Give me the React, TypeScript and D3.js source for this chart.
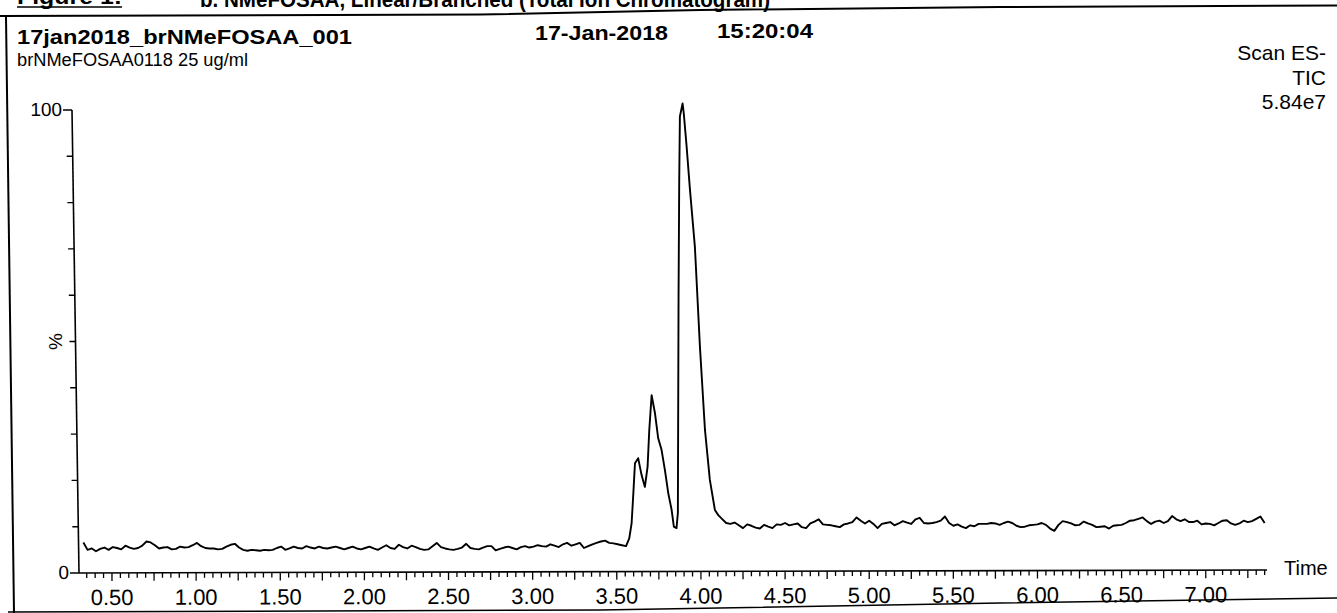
import React from "react";
import * as d3 from "d3";

const W = 1337;
const H = 613;

// axis domains
const timeDomain: [number, number] = [0.304, 7.364];
const percentDomain: [number, number] = [0, 100];

// tick labels
const timeTickLabels = ["0.50", "1.00", "1.50", "2.00", "2.50", "3.00", "3.50", "4.00", "4.50", "5.00", "5.50", "6.00", "6.50", "7.00"];
const percentTickLabels = ["0", "100"];

// header texts
const captionLeft = "Figure 1:";
const captionRight = "b. NMeFOSAA, Linear/Branched (Total Ion Chromatogram)";
const runName = "17jan2018_brNMeFOSAA_001";
const sampleName = "brNMeFOSAA0118 25 ug/ml";
const runDate = "17-Jan-2018";
const runTime = "15:20:04";
const scanInfo = ["Scan ES-", "TIC", "5.84e7"];

// TIC trace: [time (min), relative intensity (%)]
const baselineBefore: [number, number][] = [
  [0.330, 6.6], [0.355, 5.0], [0.380, 5.3], [0.405, 4.7], [0.430, 5.2], [0.455, 5.5], [0.480, 5.0], [0.505, 5.6],
  [0.530, 5.4], [0.555, 5.1], [0.580, 5.9], [0.605, 5.5], [0.630, 5.2], [0.655, 5.4], [0.680, 5.9], [0.705, 6.8],
  [0.730, 6.6], [0.755, 6.0], [0.780, 5.3], [0.805, 5.5], [0.830, 5.6], [0.855, 5.1], [0.880, 5.2], [0.905, 5.7],
  [0.930, 5.5], [0.955, 5.6], [0.980, 6.0], [1.005, 6.5], [1.030, 5.8], [1.055, 5.4], [1.080, 5.3], [1.105, 5.3],
  [1.130, 5.1], [1.155, 5.2], [1.180, 5.7], [1.205, 6.1], [1.230, 6.3], [1.255, 5.5], [1.280, 5.0], [1.305, 4.8],
  [1.330, 5.0], [1.355, 4.9], [1.380, 4.8], [1.405, 5.0], [1.430, 4.9], [1.455, 5.0], [1.480, 5.4], [1.505, 5.7],
  [1.530, 5.0], [1.555, 5.3], [1.580, 5.7], [1.605, 5.4], [1.630, 5.3], [1.655, 5.8], [1.680, 5.5], [1.705, 5.3],
  [1.730, 5.7], [1.755, 5.4], [1.780, 5.3], [1.805, 5.5], [1.830, 5.7], [1.855, 5.4], [1.880, 5.1], [1.905, 5.4],
  [1.930, 5.7], [1.955, 5.3], [1.980, 5.1], [2.005, 5.4], [2.030, 5.7], [2.055, 5.3], [2.080, 5.0], [2.105, 5.5],
  [2.130, 6.0], [2.155, 5.4], [2.180, 5.2], [2.205, 6.1], [2.230, 5.6], [2.255, 5.3], [2.280, 5.9], [2.305, 5.6],
  [2.330, 5.2], [2.355, 5.0], [2.380, 5.1], [2.405, 5.8], [2.430, 6.5], [2.455, 5.6], [2.480, 5.3], [2.505, 5.1],
  [2.530, 5.0], [2.555, 5.2], [2.580, 5.5], [2.605, 6.3], [2.630, 5.4], [2.655, 5.2], [2.680, 5.1], [2.705, 5.5],
  [2.730, 5.8], [2.755, 5.8], [2.780, 4.9], [2.805, 5.2], [2.830, 5.5], [2.855, 5.7], [2.880, 5.4], [2.905, 5.1],
  [2.930, 5.6], [2.955, 5.8], [2.980, 5.5], [3.005, 5.7], [3.030, 6.0], [3.055, 5.8], [3.080, 5.7], [3.105, 6.2],
  [3.130, 5.9], [3.155, 5.6], [3.180, 6.2], [3.205, 6.5], [3.230, 5.9], [3.255, 6.2], [3.280, 6.5], [3.305, 5.4],
  [3.330, 5.8], [3.355, 6.2], [3.380, 6.5], [3.405, 6.8], [3.430, 7.0], [3.455, 6.5], [3.480, 6.4], [3.505, 6.2],
  [3.530, 6.0], [3.555, 5.8],
];

const peakRegion: [number, number][] = [
  [3.574, 7.5], [3.588, 10.7], [3.598, 17.0], [3.608, 23.7], [3.627, 24.8], [3.647, 21.2], [3.667, 18.6],
  [3.683, 23.0], [3.693, 30.9], [3.707, 38.4], [3.727, 34.5], [3.746, 29.1], [3.766, 26.6], [3.786, 22.2],
  [3.806, 17.2], [3.826, 13.6], [3.839, 10.0], [3.855, 9.7], [3.863, 13.0], [3.867, 59.7], [3.871, 84.9],
  [3.875, 98.6], [3.891, 101.4], [3.898, 99.3], [3.915, 92.1], [3.935, 82.7], [3.964, 70.5], [3.994, 48.9],
  [4.024, 30.9], [4.053, 20.1], [4.083, 13.6], [4.103, 12.5],
];

const baselineAfter: [number, number][] = [
  [4.125, 11.7], [4.150, 10.8], [4.175, 10.6], [4.200, 10.9], [4.225, 10.3], [4.250, 9.7], [4.275, 10.5], [4.300, 10.2],
  [4.325, 9.8], [4.350, 9.6], [4.375, 10.4], [4.400, 10.0], [4.425, 9.7], [4.450, 10.5], [4.475, 10.4], [4.500, 10.8],
  [4.525, 10.3], [4.550, 10.5], [4.575, 10.7], [4.600, 9.9], [4.625, 9.7], [4.650, 10.7], [4.675, 11.1], [4.700, 11.6],
  [4.725, 10.5], [4.750, 10.4], [4.775, 10.3], [4.800, 10.1], [4.825, 9.9], [4.850, 10.5], [4.875, 10.7], [4.900, 11.0],
  [4.925, 12.0], [4.950, 11.3], [4.975, 10.7], [5.000, 11.3], [5.025, 10.6], [5.050, 9.7], [5.075, 10.6], [5.100, 10.8],
  [5.125, 11.0], [5.150, 10.3], [5.175, 10.7], [5.200, 11.2], [5.225, 10.9], [5.250, 10.6], [5.275, 11.6], [5.300, 11.9],
  [5.325, 10.8], [5.350, 10.7], [5.375, 10.8], [5.400, 11.0], [5.425, 11.3], [5.450, 12.2], [5.475, 10.8], [5.500, 10.2],
  [5.525, 10.5], [5.550, 10.0], [5.575, 9.7], [5.600, 10.3], [5.625, 10.1], [5.650, 10.6], [5.675, 10.6], [5.700, 10.6],
  [5.725, 10.8], [5.750, 10.7], [5.775, 10.4], [5.800, 10.8], [5.825, 11.1], [5.850, 10.8], [5.875, 10.2], [5.900, 9.9],
  [5.925, 10.0], [5.950, 10.3], [5.975, 10.4], [6.000, 10.5], [6.025, 10.8], [6.050, 10.4], [6.075, 9.6], [6.100, 9.1],
  [6.125, 10.4], [6.150, 11.2], [6.175, 11.0], [6.200, 10.7], [6.225, 10.3], [6.250, 10.4], [6.275, 11.1], [6.300, 10.7],
  [6.325, 10.4], [6.350, 9.9], [6.375, 10.0], [6.400, 10.1], [6.425, 9.6], [6.450, 10.2], [6.475, 10.3], [6.500, 10.4],
  [6.525, 10.8], [6.550, 11.3], [6.575, 11.4], [6.600, 11.7], [6.625, 12.0], [6.650, 11.2], [6.675, 10.6], [6.700, 11.1],
  [6.725, 11.3], [6.750, 10.8], [6.775, 11.2], [6.800, 12.3], [6.825, 11.6], [6.850, 11.2], [6.875, 11.6], [6.900, 11.0],
  [6.925, 11.0], [6.950, 11.3], [6.975, 10.5], [7.000, 10.7], [7.025, 10.6], [7.050, 10.3], [7.075, 10.8], [7.100, 11.3],
  [7.125, 11.4], [7.150, 10.7], [7.175, 10.4], [7.200, 10.7], [7.225, 11.3], [7.250, 11.0], [7.275, 11.2], [7.300, 11.7],
  [7.325, 12.2], [7.350, 10.8],
];

const FONT = "'Liberation Sans', Arial, Helvetica, sans-serif";

export default function App() {
  const x = d3.scaleLinear().domain(timeDomain).range([79, 1267]);
  const y = d3.scaleLinear().domain(percentDomain).range([573, 110]);

  const trace = [...baselineBefore, ...peakRegion, ...baselineAfter];
  const linePath = d3
    .line<[number, number]>()
    .x((d) => x(d[0]))
    .y((d) => y(d[1]))
    .curve(d3.curveLinear)(trace) as string;

  const minorIdx = d3.range(Math.ceil(timeDomain[0] / 0.05), Math.floor(timeDomain[1] / 0.05) + 1);
  const yTicks = d3.range(0, 101, 10);

  const x0 = x.range()[0];
  const x1 = x.range()[1];
  const yBottom = y(0);
  const yTop = y(100);
  const skewTan = (x0 - 72) / (yBottom - yTop);
  const skewDeg = (Math.atan(skewTan) * 180) / Math.PI;
  const yAxisOrigin = x0 - yBottom * skewTan;

  const topLine = d3.line()([
    [0, 16], [480, 14.5], [700, 10], [1000, 7], [1337, 5.5],
  ]) as string;
  const bottomLine = d3.line()([
    [8, 612], [600, 610], [1000, 603], [1337, 598],
  ]) as string;

  return (
    <svg
      width={W}
      height={H}
      viewBox={`0 0 ${W} ${H}`}
      style={{ position: "fixed", left: 0, top: 0, display: "block", background: "#fff" }}
      fontFamily={FONT}
    >
      <rect x={0} y={0} width={W} height={H} fill="#fff" />

      {/* caption (cut off at top, as in the scan) */}
      <text x={17} y={4} fontSize={22} fontWeight="bold" textLength={105} lengthAdjust="spacingAndGlyphs">
        {captionLeft}
      </text>
      <line x1={17} x2={122} y1={7} y2={7} stroke="#000" strokeWidth={1.6} />
      <text x={200} y={7} fontSize={22} fontWeight="bold" textLength={570} lengthAdjust="spacingAndGlyphs">
        {captionRight}
      </text>

      {/* frame */}
      <path d={topLine} fill="none" stroke="#000" strokeWidth={2} />
      <line x1={6} y1={17} x2={14} y2={613} stroke="#000" strokeWidth={2} />
      <path d={bottomLine} fill="none" stroke="#000" strokeWidth={1.5} />

      {/* header */}
      <text x={17} y={44} fontSize={21} fontWeight="bold" textLength={335} lengthAdjust="spacingAndGlyphs">
        {runName}
      </text>
      <text x={17} y={66} fontSize={18} textLength={231} lengthAdjust="spacingAndGlyphs">
        {sampleName}
      </text>
      <text x={535} y={40} fontSize={21} fontWeight="bold" textLength={133} lengthAdjust="spacingAndGlyphs">
        {runDate}
      </text>
      <text x={717} y={38} fontSize={21} fontWeight="bold" textLength={96} lengthAdjust="spacingAndGlyphs">
        {runTime}
      </text>
      {scanInfo.map((s, i) => (
        <text key={s} x={1326} y={60 + i * 24.5} fontSize={21} textAnchor="end">
          {s}
        </text>
      ))}

      {/* y axis (slightly skewed as in the scan) */}
      <g transform={`translate(${yAxisOrigin},0) skewX(${skewDeg})`}>
        <line x1={0} x2={0} y1={yTop} y2={yBottom} stroke="#000" strokeWidth={1.6} />
        {yTicks.map((v) => {
          const major = v === 0 || v === 100;
          return (
            <line key={v} x1={major ? -9 : -6} x2={0} y1={y(v)} y2={y(v)} stroke="#000" strokeWidth={1.4} />
          );
        })}
        {percentTickLabels.map((l) => (
          <text key={l} x={-10} y={y(+l) + 6.5} fontSize={19} textAnchor="end">
            {l}
          </text>
        ))}
      </g>
      <text transform={`translate(57,${y(50)}) rotate(-90)`} fontSize={19} textAnchor="middle" dominantBaseline="middle">
        %
      </text>

      {/* x axis */}
      <g transform={`rotate(-0.145, ${x0}, ${yBottom})`}>
        <line x1={x0} x2={x1} y1={yBottom} y2={yBottom} stroke="#000" strokeWidth={1.6} />
        {minorIdx.map((i) => {
          const t = i * 0.05;
          const quarter = i % 5 === 0;
          return (
            <line key={i} x1={x(t)} x2={x(t)} y1={yBottom} y2={yBottom + (quarter ? 8 : 5)} stroke="#000" strokeWidth={1.3} />
          );
        })}
        {timeTickLabels.map((l) => (
          <text key={l} x={x(parseFloat(l))} y={605} fontSize={22} textAnchor="middle">
            {l}
          </text>
        ))}
      </g>
      <text x={1284} y={575} fontSize={20}>
        Time
      </text>

      {/* trace */}
      <path d={linePath} fill="none" stroke="#000" strokeWidth={1.9} strokeLinejoin="round" />
    </svg>
  );
}
